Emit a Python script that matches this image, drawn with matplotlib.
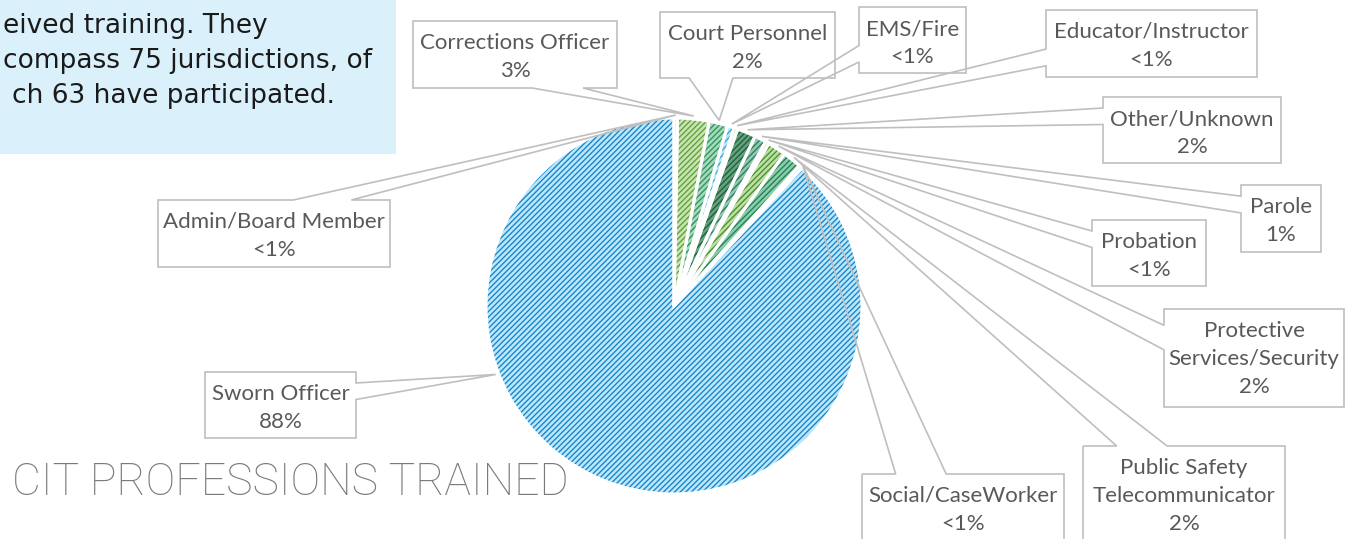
import numpy as np
import matplotlib.pyplot as plt
from matplotlib.patches import Polygon, Rectangle

W, H = 1345, 539

# data (clockwise from 12 o'clock)
professions = ['Admin/Board Member', 'Corrections Officer', 'Court Personnel', 'EMS/Fire',
               'Educator/Instructor', 'Other/Unknown', 'Parole', 'Probation',
               'Protective\nServices/Security', 'Public Safety\nTelecommunicator',
               'Social/CaseWorker', 'Sworn Officer']
shares = [0.3, 2.7, 1.6, 0.6, 0.3, 1.6, 1.0, 0.3, 1.6, 1.6, 0.3, 88.1]
pct_labels = ['<1%', '3%', '2%', '<1%', '<1%', '2%', '1%', '<1%', '2%', '2%', '<1%', '88%']

intro_lines = ['eived training. They', 'compass 75 jurisdictions, of', 'ch 63 have participated.']
title = 'CIT PROFESSIONS TRAINED'

# styles
faces = ['#A6D26A', '#C9E4B4', '#A6DABF', '#B9E5F8', '#9AB94C', '#64A37E',
         '#93C9B2', '#B2D486', '#BCE0A6', '#8CCDAB', '#A8DBF2', '#BEE7FA']
hatch_cols = ['#5E9324', '#62A23A', '#33965F', '#3AA9E2', '#557519', '#22603D',
              '#33805F', '#628A2A', '#4F9232', '#25835A', '#2E9AD2', '#1887CC']
# label boxes in pixel coords (x0, y0, x1, y1), y measured from the top
boxes = [(158, 200, 390, 267), (413, 21, 617, 88), (660, 12, 835, 78), (859, 7, 966, 73),
         (1046, 10, 1257, 77), (1103, 97, 1281, 163), (1241, 185, 1321, 252),
         (1092, 220, 1206, 286), (1164, 309, 1344, 407), (1083, 446, 1285, 580),
         (862, 474, 1064, 580), (205, 372, 356, 438)]
anchor_frac = [0.5] * 11 + [0.65]
line_col = '#BFBFBF'
text_col = '#595959'

plt.rcParams['hatch.linewidth'] = 1.0

fig = plt.figure(figsize=(W / 100, H / 100), dpi=100)
ax = fig.add_axes([0, 0, 1, 1])

cx, cy, r = 674, H - 306, 188
wedges, _ = ax.pie(shares, colors=faces, startangle=90, counterclock=False,
                   center=(cx, cy), radius=r, wedgeprops=dict(linewidth=0))
for w, hc in zip(wedges, hatch_cols):
    w.set_hatch('//////')
    w.set_edgecolor(hc)
ax.pie(shares, startangle=90, counterclock=False, center=(cx, cy), radius=r,
       wedgeprops=dict(fill=False, edgecolor='white', linewidth=2.2))


def callout(x0, y0, x1, y1, tx, ty):
    # rectangle callout with a wedge pointing to (tx, ty), pixel coords
    w, h = x1 - x0, y1 - y0
    dxp, dyp = tx - (x0 + x1) / 2, ty - (y0 + y1) / 2
    top, right, bottom, left = [], [], [], []
    if not (x0 <= tx <= x1 and y0 <= ty <= y1):
        if abs(dyp * w) > abs(dxp * h):
            xa, xb = (x0 + 7 * w / 12, x0 + 10 * w / 12) if dxp > 0 else (x0 + 2 * w / 12, x0 + 5 * w / 12)
            if dyp < 0:
                top = [(xa, y0), (tx, ty), (xb, y0)]
            else:
                bottom = [(xb, y1), (tx, ty), (xa, y1)]
        else:
            ya, yb = (y0 + 7 * h / 12, y0 + 10 * h / 12) if dyp > 0 else (y0 + 2 * h / 12, y0 + 5 * h / 12)
            if dxp > 0:
                right = [(x1, ya), (tx, ty), (x1, yb)]
            else:
                left = [(x0, yb), (tx, ty), (x0, ya)]
    return [(x0, y0)] + top + [(x1, y0)] + right + [(x1, y1)] + bottom + [(x0, y1)] + left


for w, name, pct, box, fr in zip(wedges, professions, pct_labels, boxes, anchor_frac):
    ang = np.radians(w.theta2 - fr * (w.theta2 - w.theta1))
    tx = cx + (r + 3) * np.cos(ang)
    ty = H - (cy + (r + 3) * np.sin(ang))
    pts = callout(*box, tx, ty)
    ax.add_patch(Polygon([(x, H - y) for x, y in pts], closed=True, fill=False,
                         edgecolor=line_col, linewidth=1.2, zorder=5))
    x0, y0, x1, y1 = box
    ax.text((x0 + x1) / 2, H - y0 - 12, name + '\n' + pct, ha='center', va='top',
            fontsize=16, family='Lato', color=text_col, linespacing=1.5, zorder=6)

# intro text box (cropped at the left edge)
ax.add_patch(Rectangle((0, H - 154), 396, 154, facecolor='#DAF0FB', edgecolor='none', zorder=1))
for line, x, y in zip(intro_lines, [3, 3, 12], [33, 68, 103]):
    ax.text(x, H - y, line, ha='left', va='baseline', fontsize=19,
            family='DejaVu Sans', color='#1A1A1A', zorder=2)

ax.text(12, H - 495, title, ha='left', va='baseline', fontsize=32, family='Roboto',
        fontweight='light', color='#7A7A7A')

ax.set_xlim(0, W)
ax.set_ylim(0, H)
ax.set_aspect('auto')
ax.axis('off')

fig.savefig('out.png', dpi=100, facecolor='white')
